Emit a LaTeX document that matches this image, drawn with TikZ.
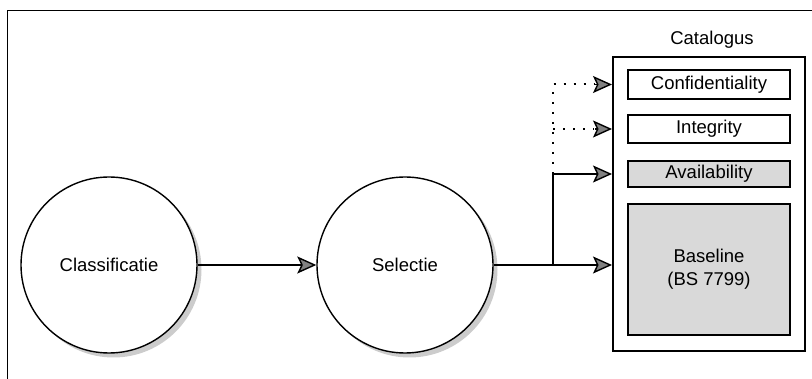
\documentclass[tikz,border=0pt]{standalone}
\usepackage{fontspec}
\setmainfont{Liberation Sans}
\usetikzlibrary{arrows.meta,shadows}
\definecolor{tipgray}{gray}{0.5}
\begin{document}
\begin{tikzpicture}[x=1pt,y=-1pt,
  every node/.style={font=\fontsize{18.5}{23}\selectfont},
  stage/.style={circle, draw, line width=1.4pt, fill=white,
    minimum size=176pt, inner sep=0pt,
    drop shadow={shadow xshift=4.5pt, shadow yshift=-4.5pt, fill=gray!40, opacity=1}},
  entry/.style={draw, line width=1.4pt, minimum width=162pt, inner sep=0pt},
  shaded/.style={fill=gray!30},
  tip/.style={-{Stealth[length=19pt, width=17pt, inset=4pt, fill=tipgray]}},
  link/.style={line width=1.4pt, tip},
  dots/.style={line width=2pt, dash pattern=on 2pt off 8pt, line cap=butt}]

  \useasboundingbox (0,0) rectangle (812,379);

  % page frame
  \draw[line width=1pt] (7,379) -- (7,11) -- (812,11);

  % process stages
  \node[stage] (cls) at (109,265) {Classificatie};
  \node[stage] (sel) at (405,265) {Selectie};

  % catalogue with its entries
  \node[draw, line width=2pt, minimum width=192pt, minimum height=294pt,
        inner sep=0pt] (cat) at (709,204) {};
  \node (cattitle) at (712,40) {Catalogus};
  \node[entry, minimum height=29pt] (conf) at (709,84.5) {Confidentiality};
  \node[entry, minimum height=28pt] (integ) at (709,129) {Integrity};
  \node[entry, shaded, minimum height=26pt] (avail) at (709,174) {Availability};
  \node[entry, shaded, minimum height=131pt, align=center] (base) at (709,269.5)
       {Baseline\\(BS 7799)};

  % connectors
  \coordinate (split) at (553,265);
  \coordinate (splitA) at (553,174);
  \draw[link] (cls) -- (sel);
  \draw[link] (sel.east) -- (sel.east -| cat.west);
  \draw[link] (split) -- (splitA) -- (cat.west |- avail);
  \draw[dots] (splitA) -- (splitA |- conf) -- ([xshift=-18pt]cat.west |- conf);
  \draw[dots] (splitA |- integ) -- ([xshift=-18pt]cat.west |- integ);
  \draw[link] ([xshift=-17pt]cat.west |- conf) -- (cat.west |- conf);
  \draw[link] ([xshift=-17pt]cat.west |- integ) -- (cat.west |- integ);
\end{tikzpicture}
\end{document}
